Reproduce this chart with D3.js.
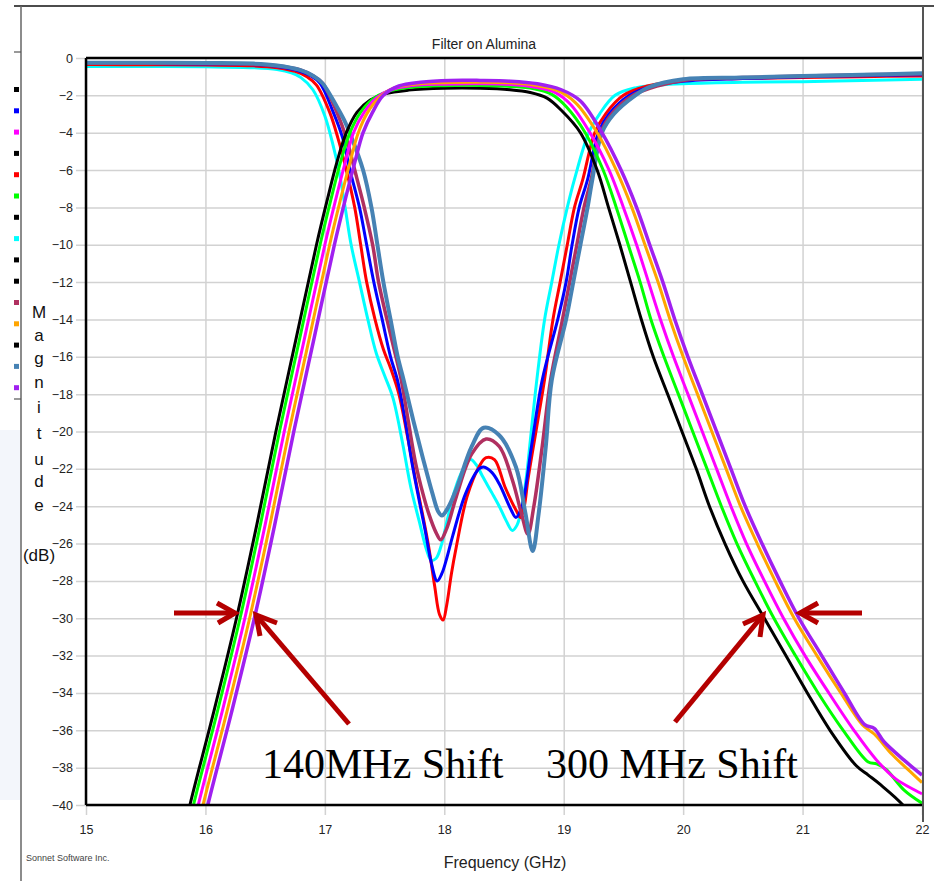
<!DOCTYPE html>
<html>
<head>
<meta charset="utf-8">
<script src="https://cdn.jsdelivr.net/npm/d3@7"></script>
<style>
  body { margin: 0; background: #fff; }
  .narrow { font-family: "Liberation Sans Narrow", "Arial Narrow", "Liberation Sans", Arial, sans-serif; }
</style>
</head>
<body>
<div id="chart"></div>
<script>
// Filter on Alumina - Sonnet style plot, S21 / S11 for several substrate cases

var width = 934,
  height = 881;

// axis setup
var freqDomain = [15, 22];
var magDomain = [0, -40];
var xTicks = [15, 16, 17, 18, 19, 20, 21, 22];
var yTicks = [0, -2, -4, -6, -8, -10, -12, -14, -16, -18, -20, -22, -24, -26, -28, -30, -32, -34, -36, -38, -40];

// legend dots down the left edge (as in the screenshot)
var legendColors = ["#000000", "#0000ff", "#ff00ff", "#000000", "#ff0000", "#00ff00", "#000000",
  "#00ffff", "#000000", "#000000", "#b03060", "#ffa500", "#000000", "#4682b4", "#a020f0"];

// transmission curves [GHz, dB]
var s21Black = [[15.80,-42],[15.87,-40],[16.07,-35],[16.26,-30],[16.43,-25],[16.59,-20],[16.76,-15],[16.93,-10],[17.02,-7.6],[17.10,-5.6],[17.18,-4.0],[17.27,-2.9],[17.38,-2.25],[17.50,-1.92],[17.70,-1.72],[18.00,-1.62],[18.30,-1.62],[18.55,-1.7],[18.72,-1.85],[18.86,-2.15],[18.98,-2.8],[19.14,-4.0],[19.28,-6],[19.375,-8],[19.47,-10],[19.56,-12],[19.65,-14],[19.75,-16],[19.87,-18],[19.99,-20],[20.11,-22],[20.22,-24],[20.35,-26],[20.50,-28],[20.68,-30],[20.86,-32],[21.04,-34],[21.23,-36],[21.45,-37.9],[21.55,-38.4],[21.65,-38.9],[21.84,-40],[21.95,-41]];
var s21Green = [[15.83,-42],[15.90,-40],[16.10,-35],[16.29,-30],[16.46,-25],[16.62,-20],[16.79,-15],[16.96,-10],[17.05,-7.6],[17.13,-5.6],[17.21,-4.0],[17.30,-2.9],[17.40,-2.2],[17.52,-1.8],[17.70,-1.58],[18.00,-1.48],[18.30,-1.47],[18.55,-1.52],[18.75,-1.65],[18.90,-1.95],[19.02,-2.6],[19.18,-4.0],[19.33,-6],[19.44,-8],[19.54,-10],[19.64,-12],[19.73,-14],[19.84,-16],[19.96,-18],[20.08,-20],[20.20,-22],[20.32,-24],[20.45,-26],[20.60,-28],[20.76,-30],[20.94,-32],[21.13,-34],[21.34,-36],[21.55,-37.7],[21.62,-37.8],[21.70,-38.1],[21.85,-39.2],[22.0,-39.9]];
var s21Magenta = [[15.87,-42],[15.94,-40],[16.14,-35],[16.33,-30],[16.50,-25],[16.66,-20],[16.83,-15],[17.00,-10],[17.09,-7.6],[17.17,-5.6],[17.24,-4.0],[17.33,-2.9],[17.43,-2.15],[17.55,-1.7],[17.72,-1.48],[18.00,-1.4],[18.30,-1.38],[18.55,-1.42],[18.75,-1.55],[18.93,-1.85],[19.06,-2.5],[19.22,-4.0],[19.38,-6],[19.50,-8],[19.61,-10],[19.71,-12],[19.81,-14],[19.92,-16],[20.04,-18],[20.16,-20],[20.28,-22],[20.40,-24],[20.53,-26],[20.68,-28],[20.84,-30],[21.02,-32],[21.22,-34],[21.43,-36],[21.62,-37.6],[21.78,-38.6],[22.0,-39.4]];
var s21Orange = [[15.91,-42],[15.98,-40],[16.18,-35],[16.37,-30],[16.54,-25],[16.70,-20],[16.87,-15],[17.04,-10],[17.13,-7.6],[17.21,-5.6],[17.28,-4.0],[17.36,-2.9],[17.46,-2.1],[17.58,-1.6],[17.75,-1.4],[18.00,-1.32],[18.30,-1.3],[18.55,-1.33],[18.75,-1.45],[18.95,-1.75],[19.10,-2.4],[19.28,-4.0],[19.44,-6],[19.57,-8],[19.68,-10],[19.79,-12],[19.89,-14],[20.00,-16],[20.12,-18],[20.24,-20],[20.36,-22],[20.48,-24],[20.62,-26],[20.77,-28],[20.93,-30],[21.12,-32],[21.32,-34],[21.50,-35.7],[21.60,-36.2],[21.75,-37.3],[21.90,-38.2],[22.0,-38.8]];
var s21Purple = [[15.95,-42],[16.02,-40],[16.22,-35],[16.41,-30],[16.58,-25],[16.74,-20],[16.91,-15],[17.08,-10],[17.17,-7.6],[17.25,-5.6],[17.32,-4.0],[17.40,-2.9],[17.49,-2.0],[17.62,-1.5],[17.80,-1.3],[18.05,-1.2],[18.30,-1.2],[18.55,-1.24],[18.78,-1.38],[18.98,-1.7],[19.14,-2.3],[19.32,-4.0],[19.48,-6],[19.61,-8],[19.72,-10],[19.83,-12],[19.93,-14],[20.04,-16],[20.16,-18],[20.28,-20],[20.40,-22],[20.52,-24],[20.66,-26],[20.81,-28],[20.97,-30],[21.16,-32],[21.35,-34],[21.52,-35.7],[21.60,-35.9],[21.68,-36.6],[21.85,-37.6],[22.0,-38.4]];

// reflection curves [GHz, dB]
var s11Cyan = [[15.0,-0.45],[15.5,-0.45],[16.0,-0.47],[16.4,-0.52],[16.6,-0.62],[16.72,-0.8],[16.8,-1.05],[16.9,-1.7],[17.0,-3.1],[17.07,-4.7],[17.12,-6.1],[17.17,-8.0],[17.22,-10],[17.29,-12],[17.36,-14],[17.43,-15.8],[17.50,-17.0],[17.57,-18.2],[17.65,-20.6],[17.72,-23],[17.79,-24.8],[17.85,-26.3],[17.89,-26.9],[17.93,-26.8],[17.97,-26.2],[18.03,-24.6],[18.09,-23.1],[18.16,-22],[18.22,-21.5],[18.27,-21.8],[18.32,-22.4],[18.40,-23.3],[18.46,-24.0],[18.52,-24.8],[18.57,-25.3],[18.61,-25.0],[18.65,-24.0],[18.69,-22.3],[18.72,-20.5],[18.77,-17.5],[18.84,-14],[18.90,-12],[18.96,-10],[19.03,-8],[19.09,-6.5],[19.21,-4],[19.30,-3.0],[19.43,-2.0],[19.6,-1.6],[19.8,-1.45],[20.0,-1.38],[20.5,-1.3],[21.0,-1.27],[21.5,-1.2],[22.0,-1.14]];
var s11Red = [[15.0,-0.35],[15.5,-0.36],[16.0,-0.38],[16.4,-0.42],[16.6,-0.52],[16.75,-0.72],[16.85,-1.0],[16.93,-1.45],[17.04,-2.9],[17.11,-4.3],[17.18,-6.0],[17.25,-8],[17.30,-10],[17.35,-12],[17.42,-14],[17.49,-15.6],[17.55,-16.6],[17.62,-18],[17.69,-20.2],[17.76,-22.6],[17.82,-24.5],[17.87,-26.2],[17.92,-28.3],[17.96,-29.8],[17.99,-30.1],[18.02,-29.3],[18.06,-27.6],[18.10,-26.2],[18.19,-23.5],[18.29,-21.9],[18.35,-21.4],[18.42,-21.5],[18.51,-23],[18.60,-24.2],[18.64,-24.6],[18.67,-24.0],[18.70,-22.6],[18.77,-19.9],[18.84,-17.2],[18.91,-14],[18.97,-12],[19.03,-10],[19.09,-8],[19.16,-6.5],[19.26,-4],[19.35,-3.0],[19.50,-2.0],[19.7,-1.5],[20.0,-1.2],[20.5,-1.1],[21.0,-1.05],[21.5,-1.0],[22.0,-0.96]];
var s11Blue = [[15.0,-0.3],[15.5,-0.3],[16.0,-0.32],[16.4,-0.36],[16.6,-0.45],[16.78,-0.68],[16.88,-0.95],[16.96,-1.35],[17.07,-2.9],[17.15,-4.3],[17.21,-6],[17.29,-8],[17.35,-10],[17.41,-12],[17.48,-14],[17.55,-16],[17.61,-17.3],[17.67,-19.3],[17.73,-21.7],[17.79,-23.7],[17.84,-25.3],[17.89,-27],[17.94,-28],[17.98,-27.6],[18.02,-26.8],[18.07,-25.6],[18.18,-23.3],[18.29,-22],[18.33,-21.9],[18.40,-22.2],[18.46,-22.8],[18.56,-24.2],[18.60,-24.6],[18.65,-24],[18.73,-20.8],[18.82,-17.25],[18.95,-14],[19.02,-12],[19.07,-10],[19.13,-8],[19.20,-6.5],[19.29,-4],[19.38,-3],[19.55,-2],[19.75,-1.5],[20.0,-1.25],[20.5,-1.1],[21.0,-1.0],[21.5,-0.95],[22.0,-0.9]];
var s11Maroon = [[15.0,-0.28],[15.5,-0.28],[16.0,-0.3],[16.4,-0.33],[16.6,-0.42],[16.8,-0.65],[16.9,-0.95],[16.98,-1.35],[17.10,-2.9],[17.18,-4.3],[17.25,-6],[17.33,-8],[17.40,-10],[17.45,-12],[17.52,-14],[17.58,-15.6],[17.64,-17.25],[17.70,-19.5],[17.76,-21.7],[17.82,-23.3],[17.87,-24.4],[17.93,-25.4],[17.97,-25.8],[18.02,-25.2],[18.10,-23.5],[18.23,-21.2],[18.35,-20.4],[18.46,-20.8],[18.57,-22.6],[18.65,-24.5],[18.70,-25.5],[18.75,-24],[18.82,-20.8],[18.89,-17.25],[18.99,-14],[19.05,-12],[19.11,-10],[19.17,-8],[19.23,-6.5],[19.31,-4],[19.40,-3],[19.58,-2],[19.78,-1.5],[20.0,-1.2],[20.5,-1.05],[21.0,-0.97],[21.5,-0.9],[22.0,-0.85]];
var s11Steel = [[15.0,-0.25],[15.5,-0.25],[16.0,-0.27],[16.4,-0.3],[16.6,-0.4],[16.79,-0.64],[16.9,-0.95],[16.98,-1.35],[17.10,-2.6],[17.16,-3.3],[17.22,-4.2],[17.32,-6],[17.39,-8],[17.44,-10],[17.49,-12],[17.55,-14],[17.61,-16],[17.66,-17.25],[17.74,-19.4],[17.82,-21.4],[17.90,-23.3],[17.95,-24.3],[17.98,-24.5],[18.03,-24.1],[18.10,-23.1],[18.23,-20.8],[18.33,-19.8],[18.46,-20.2],[18.60,-21.9],[18.68,-24.4],[18.74,-26.4],[18.79,-24.4],[18.85,-20.8],[18.90,-17.25],[19.02,-14],[19.08,-12],[19.14,-10],[19.20,-8],[19.24,-6.5],[19.32,-4],[19.42,-3],[19.60,-2],[19.72,-1.55],[20.0,-1.14],[20.5,-1.05],[21.0,-0.96],[21.5,-0.9],[22.0,-0.82]];

// draw order matters a bit: steelblue over the S11 group, purple over the S21 group
var curves = [
  { data: s11Cyan, color: "#00ffff", w: 3 },
  { data: s11Red, color: "#ff0000", w: 3 },
  { data: s11Blue, color: "#0000ff", w: 3 },
  { data: s11Maroon, color: "#b03060", w: 3.5 },
  { data: s11Steel, color: "#4682b4", w: 4 },
  { data: s21Black, color: "#000000", w: 3 },
  { data: s21Green, color: "#00ff00", w: 3 },
  { data: s21Magenta, color: "#ff00ff", w: 3 },
  { data: s21Orange, color: "#ffa500", w: 3 },
  { data: s21Purple, color: "#a020f0", w: 3.5 }
];

var svg = d3.select("#chart").append("svg")
  .attr("width", width)
  .attr("height", height)
  .style("background", "#fff");

var x = d3.scaleLinear().domain(freqDomain).range([86, 922]);
var y = d3.scaleLinear().domain(magDomain).range([58, 805]);

// faint window background at the far left
svg.append("rect")
  .attr("x", 0).attr("y", 430).attr("width", 20).attr("height", 370)
  .attr("fill", "#f3f6fb");

// window frame bits
svg.append("line").attr("x1", 14).attr("x2", 934).attr("y1", 6).attr("y2", 6)
  .attr("stroke", "#111").attr("stroke-width", 1.5);
svg.append("line").attr("x1", 21).attr("x2", 21).attr("y1", 6).attr("y2", 881)
  .attr("stroke", "#666").attr("stroke-width", 1.5);
[52, 399].forEach(function (ty) {
  svg.append("line").attr("x1", 14).attr("x2", 21).attr("y1", ty).attr("y2", ty)
    .attr("stroke", "#555").attr("stroke-width", 1.2);
});

svg.append("g")
  .selectAll("rect")
  .data(legendColors)
  .enter().append("rect")
  .attr("x", 14)
  .attr("y", function (d, i) { return 87 + i * 21.3; })
  .attr("width", 5)
  .attr("height", 5)
  .attr("fill", function (d) { return d; });

// grid + tick labels: y axis sits on the right edge so ticks reach across to the labels
var yAxis = svg.append("g")
  .attr("class", "narrow")
  .attr("transform", "translate(922,0)")
  .call(d3.axisLeft(y).tickValues(yTicks).tickSize(846).tickPadding(3).tickFormat(d3.format("d")));
yAxis.select(".domain").remove();
yAxis.selectAll("line").attr("stroke", "#d2d2d2").attr("stroke-width", 1.5);
yAxis.selectAll("text").attr("font-size", 12.5).attr("fill", "#222");

var xAxis = svg.append("g")
  .attr("class", "narrow")
  .attr("transform", "translate(0,58)")
  .call(d3.axisBottom(x).tickValues(xTicks).tickSize(757).tickPadding(10).tickFormat(d3.format("d")));
xAxis.select(".domain").remove();
xAxis.selectAll("line").attr("stroke", "#d2d2d2").attr("stroke-width", 1.5);
xAxis.selectAll("text").attr("font-size", 12.5).attr("fill", "#222");

// curves, clipped to the plot
svg.append("clipPath").attr("id", "plot-clip")
  .append("rect").attr("x", 86).attr("y", 57).attr("width", 836).attr("height", 749);

var line = d3.line()
  .x(function (d) { return x(d[0]); })
  .y(function (d) { return y(d[1]); })
  .curve(d3.curveCatmullRom.alpha(0.5));

svg.append("g")
  .attr("clip-path", "url(#plot-clip)")
  .selectAll("path")
  .data(curves)
  .enter().append("path")
  .attr("d", function (d) { return line(d.data); })
  .attr("fill", "none")
  .attr("stroke", function (d) { return d.color; })
  .attr("stroke-width", function (d) { return d.w; })
  .attr("stroke-linejoin", "round");

// plot frame
svg.append("line").attr("x1", 86).attr("x2", 922).attr("y1", 58).attr("y2", 58)
  .attr("stroke", "#000").attr("stroke-width", 2.5);
svg.append("line").attr("x1", 86).attr("x2", 922).attr("y1", 805).attr("y2", 805)
  .attr("stroke", "#000").attr("stroke-width", 2.5);
svg.append("line").attr("x1", 86).attr("x2", 86).attr("y1", 58).attr("y2", 805)
  .attr("stroke", "#000").attr("stroke-width", 2.5);
svg.append("line").attr("x1", 923).attr("x2", 923).attr("y1", 6).attr("y2", 822)
  .attr("stroke", "#555").attr("stroke-width", 2);

// titles
svg.append("text").attr("class", "narrow")
  .attr("x", 484).attr("y", 49)
  .attr("text-anchor", "middle").attr("font-size", 14).attr("fill", "#222")
  .text("Filter on Alumina");

svg.append("text").attr("class", "narrow")
  .attr("x", 505).attr("y", 868)
  .attr("text-anchor", "middle").attr("font-size", 16).attr("fill", "#222")
  .text("Frequency (GHz)");

svg.append("text").attr("class", "narrow")
  .attr("x", 26).attr("y", 861)
  .attr("font-size", 9).attr("fill", "#444")
  .text("Sonnet Software Inc.");

var yLabel = "Magnitude".split("");
var yLabelPos = [312, 335, 358, 382, 407, 433, 459, 481, 505];
svg.append("g").attr("class", "narrow")
  .selectAll("text")
  .data(yLabel)
  .enter().append("text")
  .attr("x", 39)
  .attr("y", function (d, i) { return yLabelPos[i] + 6; })
  .attr("text-anchor", "middle")
  .attr("font-size", 17)
  .attr("fill", "#111")
  .text(function (d) { return d; });

svg.append("text").attr("class", "narrow")
  .attr("x", 39).attr("y", 561)
  .attr("text-anchor", "middle").attr("font-size", 17).attr("fill", "#111")
  .text("(dB)");

// shift annotations
var arrowRed = "#b40000";
var arrows = [
  { from: [174, 613], to: [235, 613], arms: [[217, 603], [218, 623]] },
  { from: [349, 724], to: [256, 615], arms: [[260, 636], [277, 623]] },
  { from: [675, 722], to: [763, 615], arms: [[743, 624], [760, 637]] },
  { from: [862, 613], to: [800, 613], arms: [[818, 603], [818, 623]] }
];
var ann = svg.append("g");
arrows.forEach(function (a) {
  ann.append("line")
    .attr("x1", a.from[0]).attr("y1", a.from[1])
    .attr("x2", a.to[0]).attr("y2", a.to[1])
    .attr("stroke", arrowRed).attr("stroke-width", 5);
  ann.append("polyline")
    .attr("points", [a.arms[0], a.to, a.arms[1]].map(function (p) { return p.join(","); }).join(" "))
    .attr("fill", "none").attr("stroke", arrowRed).attr("stroke-width", 5)
    .attr("stroke-linejoin", "miter");
});

ann.append("text")
  .attr("x", 262).attr("y", 778)
  .attr("font-family", "'Liberation Serif', 'Times New Roman', serif")
  .attr("font-size", 42).attr("fill", "#000")
  .text("140MHz Shift");
ann.append("text")
  .attr("x", 546).attr("y", 778)
  .attr("font-family", "'Liberation Serif', 'Times New Roman', serif")
  .attr("font-size", 42).attr("fill", "#000")
  .text("300 MHz Shift");
</script>
</body>
</html>
